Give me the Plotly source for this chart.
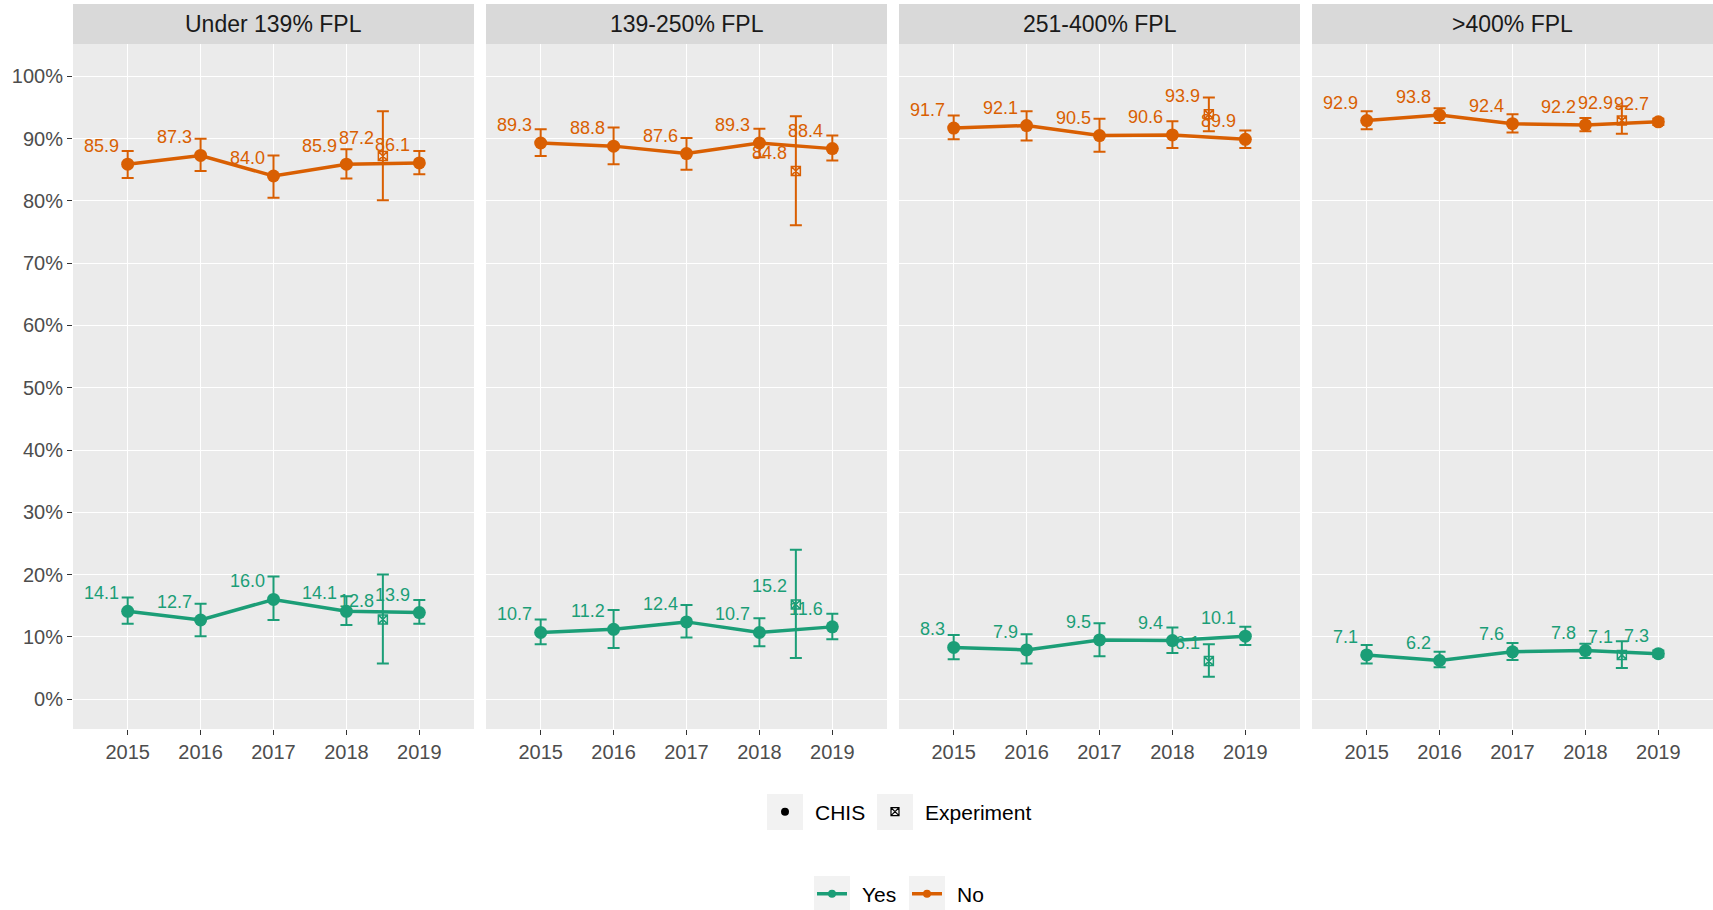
import plotly.graph_objects as go

# ---------------- data ----------------
years = [2015, 2016, 2017, 2018, 2019]
exp_year = 2018.5
panels = ["Under 139% FPL", "139-250% FPL", "251-400% FPL", ">400% FPL"]
y_ticks = [0, 10, 20, 30, 40, 50, 60, 70, 80, 90, 100]

chis_no = [[85.9, 87.3, 84.0, 85.9, 86.1],
           [89.3, 88.8, 87.6, 89.3, 88.4],
           [91.7, 92.1, 90.5, 90.6, 89.9],
           [92.9, 93.8, 92.4, 92.2, 92.7]]
chis_no_lo = [[83.7, 84.8, 80.5, 83.6, 84.3],
              [87.2, 85.9, 85.0, 87.0, 86.5],
              [89.9, 89.7, 87.9, 88.5, 88.5],
              [91.5, 92.5, 91.0, 91.2, 92.2]]
chis_no_hi = [[88.0, 90.0, 87.3, 88.3, 88.0],
              [91.5, 91.8, 90.1, 91.6, 90.5],
              [93.7, 94.4, 93.2, 92.8, 91.3],
              [94.4, 94.9, 93.9, 93.3, 93.2]]
exp_no = [87.2, 84.8, 93.9, 92.9]
exp_no_lo = [80.1, 76.1, 91.2, 90.8]
exp_no_hi = [94.4, 93.6, 96.6, 95.2]

chis_yes = [[14.1, 12.7, 16.0, 14.1, 13.9],
            [10.7, 11.2, 12.4, 10.7, 11.6],
            [8.3, 7.9, 9.5, 9.4, 10.1],
            [7.1, 6.2, 7.6, 7.8, 7.3]]
chis_yes_lo = [[12.1, 10.1, 12.7, 11.9, 12.1],
               [8.8, 8.2, 9.9, 8.5, 9.6],
               [6.4, 5.7, 6.9, 7.4, 8.7],
               [5.7, 5.1, 6.3, 6.6, 6.8]]
chis_yes_hi = [[16.3, 15.3, 19.7, 16.5, 15.9],
               [12.8, 14.3, 15.1, 13.0, 13.7],
               [10.3, 10.4, 12.2, 11.5, 11.6],
               [8.7, 7.6, 9.0, 8.9, 7.8]]
exp_yes = [12.8, 15.2, 6.1, 7.1]
exp_yes_lo = [5.7, 6.6, 3.6, 5.0]
exp_yes_hi = [20.0, 24.0, 8.8, 9.3]

# ---------------- style ----------------
GREEN = "#1B9E77"
ORANGE = "#D95F02"
FONT = "Liberation Sans, Arial, sans-serif"
W, H = 1713, 910
ML, MR, MT = 73, 0, 44
PH = 685
MB = H - MT - PH
PW = W - ML - MR
PANEL_W = 401
PANEL_STEP = 413
STRIP_H = 40


def px_x(page_x):
    return (page_x - ML) / PW


def px_y(page_y):
    return (MT + PH - page_y) / PH


fig = go.Figure()


def err(v, lo, hi):
    return dict(type="data", symmetric=False,
                array=[h - x for x, h in zip(v, hi)],
                arrayminus=[x - l for x, l in zip(v, lo)])


series = [
    ("Yes", GREEN, "legend3", chis_yes, chis_yes_lo, chis_yes_hi, exp_yes, exp_yes_lo, exp_yes_hi),
    ("No", ORANGE, "legend4", chis_no, chis_no_lo, chis_no_hi, exp_no, exp_no_lo, exp_no_hi),
]

annotations = []
shapes = []

for p, title in enumerate(panels):
    xa = "x" if p == 0 else f"x{p + 1}"
    ya = "y" if p == 0 else f"y{p + 1}"
    for name, col, leg, cv, clo, chi, ev, elo, ehi in series:
        e = err(cv[p], clo[p], chi[p])
        e.update(color=col, thickness=2, width=6)
        fig.add_trace(go.Scatter(
            x=years, y=cv[p], mode="lines+markers", name=name,
            line=dict(color=col, width=3.5),
            marker=dict(color=col, size=13, symbol="circle"),
            error_y=e, xaxis=xa, yaxis=ya,
            showlegend=False, hoverinfo="skip"))
        e2 = err([ev[p]], [elo[p]], [ehi[p]])
        e2.update(color=col, thickness=2, width=6)
        fig.add_trace(go.Scatter(
            x=[exp_year], y=[ev[p]], mode="markers", name=name + " exp",
            marker=dict(color=col, size=9, symbol="square-x-open",
                        line=dict(color=col, width=1.5)),
            error_y=e2, xaxis=xa, yaxis=ya, showlegend=False, hoverinfo="skip"))
        for xv, yv in list(zip(years, cv[p])) + [(exp_year, ev[p])]:
            annotations.append(dict(
                x=xv, y=yv, xref=xa, yref=ya, text=f"{yv:.1f}", showarrow=False,
                xanchor="right", yanchor="middle", xshift=-7, yshift=18,
                font=dict(family=FONT, size=18, color=col)))
    # strip
    x0 = p * PANEL_STEP / PW
    x1 = (p * PANEL_STEP + PANEL_W) / PW
    shapes.append(dict(type="rect", xref="paper", yref="paper",
                       x0=x0, x1=x1, y0=1, y1=1 + STRIP_H / PH,
                       fillcolor="#D9D9D9", line=dict(width=0), layer="below"))
    annotations.append(dict(x=(x0 + x1) / 2, y=1 + STRIP_H / 2 / PH, xref="paper", yref="paper",
                            text=title, showarrow=False, xanchor="center", yanchor="middle",
                            font=dict(family=FONT, size=23, color="#1A1A1A")))
    axis_common = dict(showline=False, zeroline=False, gridcolor="#FFFFFF", gridwidth=1.2,
                       ticks="outside", ticklen=5, tickcolor="#333333", tickwidth=1)
    fig.update_layout(**{
        ("xaxis" if p == 0 else f"xaxis{p + 1}"): dict(
            domain=[x0, x1], anchor=ya, range=[2014.25, 2019.75],
            tickmode="array", tickvals=years, ticktext=[str(y) for y in years],
            tickfont=dict(family=FONT, size=20, color="#4D4D4D"), **axis_common),
        ("yaxis" if p == 0 else f"yaxis{p + 1}"): dict(
            domain=[0, 1], anchor=xa, range=[-4.8, 105.2],
            tickmode="array", tickvals=y_ticks, ticktext=[f"{t}%" for t in y_ticks],
            showticklabels=(p == 0),
            tickfont=dict(family=FONT, size=20, color="#4D4D4D"),
            **{**axis_common, "ticks": "outside" if p == 0 else ""}),
    })

# legend entries
fig.add_trace(go.Scatter(x=[None], y=[None], mode="markers", name="\u00a0\u2009CHIS",
                         marker=dict(color="black", size=8, symbol="circle"),
                         legend="legend"))
fig.add_trace(go.Scatter(x=[None], y=[None], mode="markers", name="\u00a0\u2009Experiment",
                         marker=dict(color="black", size=8, symbol="square-x-open",
                                     line=dict(color="black", width=1.2)),
                         legend="legend2"))
for name, col, leg, *_ in series:
    fig.add_trace(go.Scatter(x=[None], y=[None], mode="lines+markers", name="\u00a0\u2009" + name,
                             line=dict(color=col, width=3.5),
                             marker=dict(color=col, size=8, symbol="circle"),
                             legend=leg))

# legend key boxes (page coordinates of key centres)
key_centres = {"legend": (785, 812), "legend2": (895, 812),
               "legend3": (832, 894), "legend4": (927, 894)}
KEY = 36
legends = {}
for lg, (cx, cy) in key_centres.items():
    shapes.append(dict(type="rect", xref="paper", yref="paper",
                       x0=px_x(cx - KEY / 2), x1=px_x(cx + KEY / 2),
                       y0=px_y(cy + KEY / 2), y1=px_y(cy - KEY / 2),
                       fillcolor="#F2F2F2", line=dict(width=0), layer="below"))
    legends[lg] = dict(orientation="h", x=px_x(cx - 20), xanchor="left",
                       yref="container", y=1 - cy / H, yanchor="middle",
                       font=dict(family=FONT, size=21, color="black"),
                       bgcolor="rgba(0,0,0,0)", borderwidth=0)

fig.update_layout(
    width=W, height=H,
    margin=dict(l=ML, r=MR, t=MT, b=MB, pad=0),
    paper_bgcolor="white", plot_bgcolor="#EBEBEB",
    font=dict(family=FONT, color="black"),
    showlegend=True,
    annotations=annotations, shapes=shapes,
    **legends,
)

fig.write_html("out.html", config={"displayModeBar": False},
               post_script="document.body.style.margin='0';document.body.style.overflow='hidden';")
